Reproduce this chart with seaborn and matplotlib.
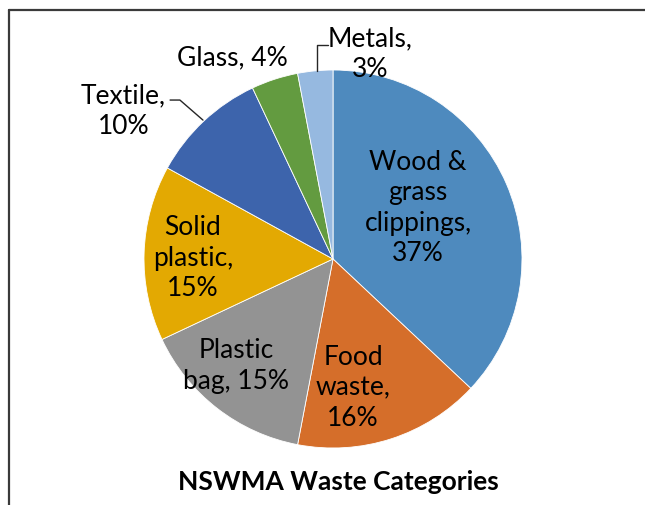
import matplotlib
matplotlib.use("Agg")
import matplotlib.pyplot as plt
from matplotlib.lines import Line2D
import seaborn as sns

# Waste composition (share of total, %), clockwise from 12 o'clock
categories = ["Wood &\ngrass\nclippings", "Food\nwaste", "Plastic\nbag", "Solid\nplastic",
              "Textile", "Glass", "Metals"]
shares = [37, 16, 15, 15, 10, 4, 3]
label_joiners = [",\n", ",\n", ", ", ",\n", ",\n", ", ", ",\n"]
colors = ["#4E8ABE", "#D56E2A", "#939393", "#E3A902", "#3D64AC", "#639B40", "#96B9E0"]
title = "NSWMA Waste Categories"

# label anchor points in pie units (radius = 1)
label_pos = [(0.45, 0.27), (0.106, -0.683), (-0.513, -0.566), (-0.741, 0.005),
             (-1.11, 0.783), (-0.534, 1.063), (0.196, 1.085)]

sns.set_style("white")
plt.rcParams["font.family"] = ["Lato", "DejaVu Sans"]

W, H, DPI = 645, 505, 100
fig = plt.figure(figsize=(W / DPI, H / DPI), dpi=DPI)

cx, cy, r = 333, 259, 189
ax = fig.add_axes([(cx - r) / W, (H - cy - r) / H, 2 * r / W, 2 * r / H])
palette = sns.color_palette(colors)
ax.pie(shares, colors=palette, startangle=90, counterclock=False, radius=1,
       wedgeprops=dict(edgecolor="white", linewidth=0.6))
ax.set_xlim(-1, 1)
ax.set_ylim(-1, 1)
ax.set_aspect("equal")
ax.axis("off")

for cat, val, jn, (x, y) in zip(categories, shares, label_joiners, label_pos):
    ax.text(x, y, f"{cat}{jn}{val}%", ha="center", va="center", fontsize=19,
            color="black", linespacing=1.27, clip_on=False)

# leader lines for the two outside labels
ax.add_line(Line2D([-0.862, -0.810, -0.688], [0.841, 0.841, 0.735],
                   color="#262626", lw=1.0, clip_on=False))
ax.add_line(Line2D([-0.026, -0.085, -0.085], [1.132, 1.132, 0.995],
                   color="#262626", lw=1.0, clip_on=False))

fig.text(338 / W, 1 - 482 / H, title, ha="center", va="center", fontsize=19,
         fontweight="bold", color="black")

# chart frame (top and left edges)
fig.add_artist(Line2D([9 / W, 1], [1 - 10 / H, 1 - 10 / H], transform=fig.transFigure,
                      color="#3a3a3a", lw=1.6))
fig.add_artist(Line2D([9 / W, 9 / W], [0, 1 - 10 / H], transform=fig.transFigure,
                      color="#3a3a3a", lw=1.6))

fig.savefig("out.png", dpi=DPI)
